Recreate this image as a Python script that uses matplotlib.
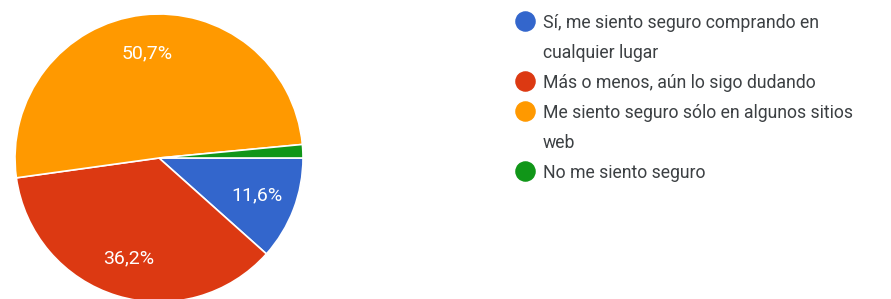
import matplotlib.pyplot as plt

# Survey answers (Google Forms style pie)
labels = [
    "Sí, me siento seguro comprando en\ncualquier lugar",
    "Más o menos, aún lo sigo dudando",
    "Me siento seguro sólo en algunos sitios\nweb",
    "No me siento seguro",
]
percentages = [11.6, 36.2, 50.7, 1.5]
colors = ["#3366cc", "#dc3912", "#ff9900", "#109618"]

W, H = 891, 299
fig = plt.figure(figsize=(W / 100, H / 100), dpi=100)
plt.rcParams["font.family"] = ["Roboto", "DejaVu Sans"]

# pie centre / radius in pixels
cx, cy, r = 159, 158, 144
ax = fig.add_axes([(cx - r) / W, (H - cy - r) / H, 2 * r / W, 2 * r / H])


def fmt(p):
    # hide label on tiny slices, use comma as decimal separator
    if p < 5:
        return ""
    return f"{p:.1f}%".replace(".", ",")


wedges, texts, autotexts = ax.pie(
    percentages, colors=colors, startangle=0, counterclock=False,
    autopct=fmt, pctdistance=0.73,
    wedgeprops=dict(edgecolor="white", linewidth=1.2),
)
for t in autotexts:
    t.set_color("white")
    t.set_fontsize(14)
ax.set_xlim(-1, 1)
ax.set_ylim(-1, 1)
ax.set_aspect("auto")

# legend drawn in pixel coordinates
lax = fig.add_axes([0, 0, 1, 1])
lax.set_xlim(0, W)
lax.set_ylim(H, 0)
lax.axis("off")
line = 0
for lab, col in zip(labels, colors):
    lax.scatter([525], [21 + 30 * line], s=190, color=col, zorder=3)
    for part in lab.split("\n"):
        lax.text(543, 21 + 30 * line, part, fontsize=12.7, color="#3c4043",
                 va="center_baseline")
        line += 1

fig.savefig("out.png", dpi=100)
